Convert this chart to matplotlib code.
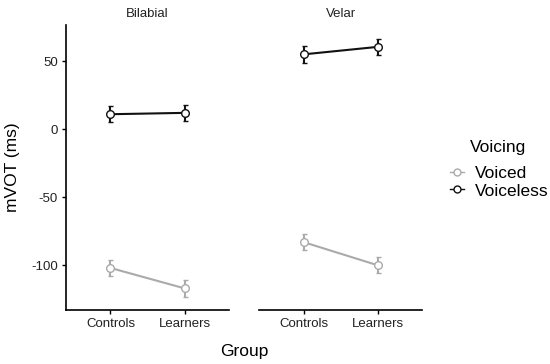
import numpy as np
import matplotlib.pyplot as plt
from matplotlib.lines import Line2D

plt.rcParams['font.family'] = ['Liberation Sans', 'DejaVu Sans']

groups = ['Controls', 'Learners']
places = ['Bilabial', 'Velar']
voicing = ['Voiced', 'Voiceless']
colors = {'Voiced': '#aaaaaa', 'Voiceless': '#111111'}

# means and error half-widths, per place and voicing
means = {
    'Bilabial': {'Voiced': [-102, -117], 'Voiceless': [11, 12]},
    'Velar': {'Voiced': [-83, -100], 'Voiceless': [55, 60.5]},
}
errs = {
    'Bilabial': {'Voiced': [6, 6], 'Voiceless': [6, 6]},
    'Velar': {'Voiced': [6, 6], 'Voiceless': [6, 6]},
}
yticks = [-100, -50, 0, 50]

fig = plt.figure(figsize=(5.5, 3.64), dpi=100)
ax1 = fig.add_axes([0.12, 0.148, 0.2964, 0.783])
ax2 = fig.add_axes([0.471, 0.148, 0.2964, 0.783], sharey=ax1)

x = np.arange(1, len(groups) + 1)
for ax, place in zip([ax1, ax2], places):
    for v in voicing:
        c = colors[v]
        ax.errorbar(x, means[place][v], yerr=errs[place][v], color=c,
                    lw=1.5, marker='o', ms=5.5, mfc='white', mec=c, mew=1,
                    ecolor=c, elinewidth=1.5, capsize=1.8, capthick=1.5)
    ax.set_xlim(0.4, 2.6)
    ax.set_ylim(-133, 76.5)
    ax.set_xticks(x)
    ax.set_xticklabels(groups, fontsize=9.5, color='#222222')
    ax.set_title(place, fontsize=9.5, pad=6, color='#222222')
    for s in ['top', 'right']:
        ax.spines[s].set_visible(False)
    ax.spines['bottom'].set_linewidth(1.2)
    ax.spines['left'].set_linewidth(1.2)
    ax.tick_params(length=3, width=1, pad=3)

ax1.set_yticks(yticks)
ax1.set_yticklabels([str(t) for t in yticks], fontsize=9.5, color='#222222')
ax2.spines['left'].set_visible(False)
ax2.tick_params(axis='y', left=False, labelleft=False)

ax1.set_ylabel('mVOT (ms)', fontsize=12.5, labelpad=8)
fig.text(0.445, 0.033, 'Group', fontsize=12.5, ha='center', va='center')

# legend
fig.text(0.855, 0.596, 'Voicing', fontsize=12.5, ha='left', va='center')
handles = [Line2D([], [], color=colors[v], lw=1, marker='o', ms=5,
                  mfc='white', mec=colors[v], mew=1) for v in voicing]
fig.legend(handles=handles, labels=voicing, loc='upper left',
           bbox_to_anchor=(0.806, 0.564), frameon=False, fontsize=12.5,
           handlelength=0.8, handletextpad=0.6, labelspacing=0.15,
           borderaxespad=0)

fig.savefig('out.png', dpi=100)
